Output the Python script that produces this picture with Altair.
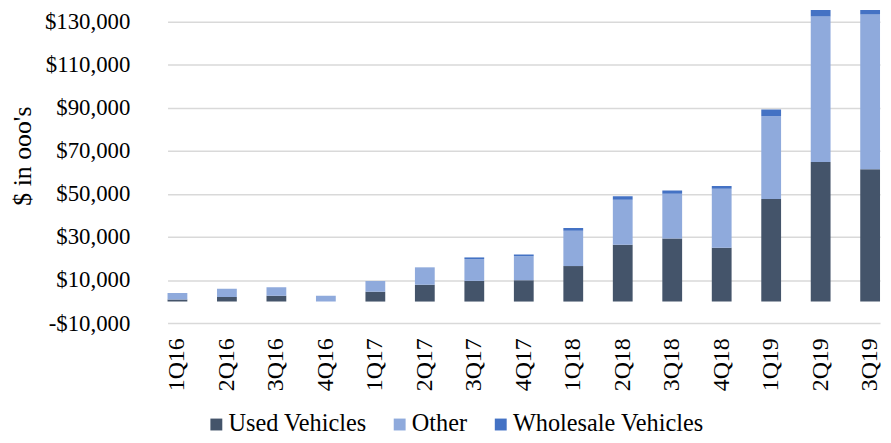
import altair as alt
import pandas as pd

quarters = ["1Q16", "2Q16", "3Q16", "4Q16", "1Q17", "2Q17", "3Q17", "4Q17",
            "1Q18", "2Q18", "3Q18", "4Q18", "1Q19", "2Q19", "3Q19"]
used_vehicles = [900, 2100, 2700, 0, 4550, 7800, 9600, 9900,
                 16500, 26350, 29250, 25000, 47650, 64800, 61450]
other = [3050, 3850, 4000, 2700, 5000, 8100, 10150, 11200,
         16400, 21000, 20850, 27400, 38500, 67650, 71900]
wholesale_vehicles = [0, 0, 0, 0, 0, 0, 750, 800,
                      1300, 1550, 1550, 1250, 3050, 8000, 5350]
series = ["Used Vehicles", "Other", "Wholesale Vehicles"]
colors = ["#44546A", "#8FAADC", "#4472C4"]
y_ticks = [-10000, 10000, 30000, 50000, 70000, 90000, 110000, 130000]

rows = []
for i, q in enumerate(quarters):
    for k, (name, vals) in enumerate(zip(series, [used_vehicles, other, wholesale_vehicles])):
        rows.append({"quarter": q, "series": name, "value": vals[i], "order": k})
df = pd.DataFrame(rows)

FONT = "Liberation Serif"

bars = alt.Chart(df).mark_bar(clip=True).encode(
    x=alt.X("quarter:N", sort=quarters,
            scale=alt.Scale(range=[16, 735], paddingInner=0.6, paddingOuter=0),
            axis=alt.Axis(title=None, labelAngle=-90, labelFont=FONT, labelFontSize=24,
                          labelColor="#000000", ticks=False, domain=False,
                          labelPadding=15, grid=False)),
    y=alt.Y("value:Q", stack="zero",
            scale=alt.Scale(domain=[-10000, 135500], nice=False, zero=False),
            axis=alt.Axis(title="$ in ooo's", values=y_ticks,
                          labelExpr="(datum.value < 0 ? '-$' : '$') + format(abs(datum.value), ',')",
                          labelFont=FONT, labelFontSize=23, labelColor="#000000",
                          ticks=False, domain=False, labelPadding=22,
                          grid=True, gridColor="#D9D9D9", gridWidth=1.5,
                          titleFont=FONT, titleFontSize=26, titleFontWeight="normal",
                          titleColor="#000000", titleAngle=270, titleX=-130, titleY=147,
                          titleAlign="center", titleBaseline="middle")),
    color=alt.Color("series:N", scale=alt.Scale(domain=series, range=colors),
                    legend=alt.Legend(title=None, orient="none", direction="horizontal",
                                      legendX=53, legendY=406, padding=0,
                                      symbolType="square", symbolSize=144,
                                      symbolStrokeWidth=0, labelFont=FONT,
                                      labelFontSize=24.5, labelColor="#000000",
                                      labelLimit=0, labelOffset=0, columnPadding=21)),
    order=alt.Order("order:Q", sort="ascending"),
)

chart = bars.properties(
    width=738, height=316,
    autosize=alt.AutoSizeParams(type="none"),
    padding={"left": 145, "top": 0, "right": 0, "bottom": 111},
).configure_view(stroke=None)

chart.save("out.html", embed_options={"renderer": "svg", "actions": False})
